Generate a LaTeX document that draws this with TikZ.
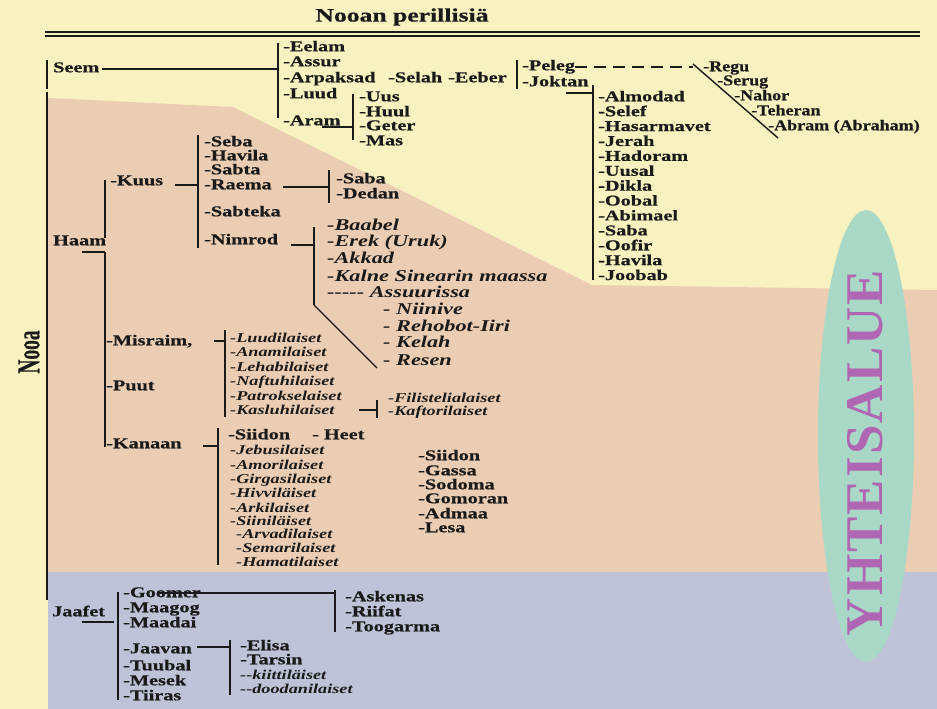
\documentclass[tikz,border=0pt]{standalone}
\usepackage{fontspec}
\usepackage{graphicx}
\usetikzlibrary{shapes.geometric}
\setmainfont{Liberation Serif}[FakeStretch=1.35, BoldFeatures={FakeBold=0.6}]
\newfontfamily\nstr{Liberation Serif}[FakeStretch=1.2, BoldFeatures={FakeBold=0.6}]
\newfontfamily\yfont{Liberation Serif}[LetterSpace=4]
\definecolor{bgY}{HTML}{F7F2BF}
\definecolor{bgP}{HTML}{EBCDB3}
\definecolor{bgB}{HTML}{BEC3D7}
\definecolor{mint}{HTML}{A9D9C6}
\definecolor{purp}{HTML}{B067B3}
\definecolor{ink}{HTML}{1A1A1A}
\tikzset{
  lbl/.style={anchor=west, inner sep=0pt, text height=9pt, text depth=2.5pt, text=ink,
              font=\fontsize{15}{16}\selectfont\bfseries},
  lnr/.style={lbl, font=\nstr\fontsize{15}{16}\selectfont\bfseries},
  lit/.style={lbl, text height=8.5pt, text depth=2pt, font=\fontsize{13.5}{14}\selectfont\bfseries\itshape},
  lbi/.style={lbl, font=\fontsize{16.5}{17}\selectfont\bfseries\itshape},
  bar/.style={draw=ink, line width=2.2pt},
  conn/.style={draw=ink, line width=1.4pt},
}
\begin{document}
\begin{tikzpicture}[x=1pt,y=-1pt]
\useasboundingbox (0,0) rectangle (937,709);
% backgrounds
\fill[bgY] (0,0) rectangle (937,709);
\fill[bgP] (48,98) -- (233,107) -- (592,285) -- (937,290) -- (937,572) -- (48,572) -- cycle;
\fill[bgB] (48,572) rectangle (937,709);
\node[ellipse, fill=mint, inner sep=0pt, minimum width=96pt, minimum height=452pt] (oval) at (866,436) {};
\node[rotate=90, text=purp, inner sep=0pt, font=\yfont\fontsize{53}{53}\selectfont\bfseries] (yht) at (865,453) {YHTEISALUE};

% title
\node[inner sep=0pt, text=ink, font=\fontsize{19}{20}\selectfont\bfseries] (title) at (402,17) {Nooan perillisiä};
\coordinate (tl1) at (45,32); \coordinate (tr1) at (920,32);
\coordinate (tl2) at (45,36); \coordinate (tr2) at (920,36);
\draw[draw=ink, line width=1.6pt] (tl1) -- (tr1);
\draw[draw=ink, line width=1.2pt] (tl2) -- (tr2);

% Nooa
\node[rotate=90, inner sep=0pt, text=ink, font=\fontsize{32}{32}\selectfont\bfseries] (nooa) at (29,352) {\scalebox{0.45}[1]{Nooa}};
\coordinate (nooaT) at (47,92); \coordinate (nooaB) at (47,600);
\draw[bar] (nooaT) -- (nooaB);

% ---------------- Seem
\node[lbl] (seem) at (53,69) {Seem};
\coordinate (seemBarT) at (47,60); \coordinate (seemBarB) at (47,89);
\draw[bar] (seemBarT) -- (seemBarB);
\coordinate (seemT) at (278,43); \coordinate (seemB) at (278,118);
\draw[bar] (seemT) -- (seemB);
\draw[conn] ([xshift=2pt]seem.east) -- (seem.east -| seemT);
\foreach \n/\t/\y in {eelam/Eelam/48, assur/Assur/63, arpaksad/Arpaksad/79, luud/Luud/95, aram/Aram/122}
  \node[lbl] (\n) at (283,\y) {-\t};
\node[lbl] (selah) at (388,79) {-Selah};
\node[lbl] (eeber) at (448,79) {-Eeber};
% Aram
\coordinate (aramU) at (322,127); \coordinate (aramT) at (353,94); \coordinate (aramB) at (353,140);
\draw[bar] (aramT) -- (aramB);
\draw[conn] (aramU) -- (aramU -| aramT);
\foreach \n/\t/\y in {uus/Uus/98, huul/Huul/113, geter/Geter/127, mas/Mas/142}
  \node[lbl] (\n) at (359,\y) {-\t};
% Eeber
\coordinate (eebT) at (517,60); \coordinate (eebB) at (517,89);
\draw[bar] (eebT) -- (eebB);
\node[lbl] (peleg) at (522,67) {-Peleg};
\node[lbl] (joktan) at (522,83) {-Joktan};
\coordinate (pelegEnd) at (693,67);
\draw[conn, dash pattern=on 12pt off 7pt] (peleg.east) -- (pelegEnd);
\coordinate (diagT) at (693,64); \coordinate (diagB) at (778,138);
\draw[conn] (diagT) -- (diagB);
\node[lnr] (regu) at (703,68) {-Regu};
\node[lnr] (serug) at (717,82) {-Serug};
\node[lnr] (nahor) at (734,97) {-Nahor};
\node[lnr] (teheran) at (751,112) {-Teheran};
\node[lnr] (abram) at (768,127) {-Abram (Abraham)};
% Joktan
\coordinate (jokU) at (566,93); \coordinate (jokT) at (593,85); \coordinate (jokB) at (593,280);
\draw[bar] (jokT) -- (jokB);
\draw[conn] (jokU) -- (jokU -| jokT);
\foreach \n/\t [count=\i from 0] in {almodad/Almodad, selef/Selef, hasarmavet/Hasarmavet, jerah/Jerah, hadoram/Hadoram, uusal/Uusal, dikla/Dikla, oobal/Oobal, abimael/Abimael, sabaj/Saba, oofir/Oofir, havilaj/Havila, joobab/Joobab}
  \node[lbl] (\n) at (598,98+14.9*\i) {-\t};

% ---------------- Haam
\node[lbl] (haam) at (53,242) {Haam};
\coordinate (haamU) at (82,252); \coordinate (haamT) at (105,180); \coordinate (haamM) at (105,238);
\coordinate (haamB) at (105,447);
\draw[bar] (haamT) -- (haamM);
\draw[bar] (haamU -| haamB) -- (haamB);
\draw[conn] (haamU) -- (haamU -| haamB);
\node[lbl] (kuus) at (110,182) {-Kuus};
\coordinate (kuusL) at (175,185); \coordinate (kuusT) at (198,135); \coordinate (kuusB) at (198,248);
\draw[bar] (kuusT) -- (kuusB);
\draw[conn] (kuusL) -- (kuusL -| kuusT);
\foreach \n/\t/\y in {seba/Seba/143, havila/Havila/157, sabta/Sabta/171, raema/Raema/186, sabteka/Sabteka/213, nimrod/Nimrod/241}
  \node[lbl] (\n) at (204,\y) {-\t};
\coordinate (raeL) at (283,187); \coordinate (raeT) at (329,170); \coordinate (raeB) at (329,203);
\draw[bar] (raeT) -- (raeB);
\draw[conn] (raeL) -- (raeL -| raeT);
\node[lbl] (saba) at (336,180) {-Saba};
\node[lbl] (dedan) at (336,195) {-Dedan};
\coordinate (nimL) at (291,245); \coordinate (nimT) at (314,227); \coordinate (nimB) at (314,305);
\coordinate (nimD) at (377,368);
\draw[bar] (nimT) -- (nimB);
\draw[conn] (nimL) -- (nimL -| nimT);
\draw[conn] (nimB) -- (nimD);
\node[lbi] (baabel) at (327,227) {-Baabel};
\node[lbi] (erek) at (327,243) {-Erek (Uruk)};
\node[lbi] (akkad) at (327,260) {-Akkad};
\node[lbi] (kalne) at (327,278) {-Kalne Sinearin maassa};
\node[lbi] (assuur) at (327,294) {{-}{-}{-}{-}{-} Assuurissa};
\node[lbi] (niinive) at (383,311) {- Niinive};
\node[lbi] (rehobot) at (383,328) {- Rehobot-Iiri};
\node[lbi] (kelah) at (383,344) {- Kelah};
\node[lbi] (resen) at (383,362) {- Resen};
% Misraim
\node[lbl] (misraim) at (106,342) {-Misraim,};
\coordinate (misL) at (214,341); \coordinate (misT) at (225,330); \coordinate (misB) at (225,417);
\draw[bar] (misT) -- (misB);
\draw[conn] (misL) -- (misL -| misT);
\foreach \n/\t/\y in {luudil/Luudilaiset/339, anamil/Anamilaiset/353, lehabil/Lehabilaiset/368, naftuhil/Naftuhilaiset/382, patroksel/Patrokselaiset/397, kasluhil/Kasluhilaiset/411}
  \node[lit] (\n) at (230,\y) {-\t};
\coordinate (kasL) at (359,410); \coordinate (kasT) at (377,400); \coordinate (kasB) at (377,418);
\draw[bar] (kasT) -- (kasB);
\draw[conn] (kasL) -- (kasL -| kasT);
\node[lit] (filist) at (388,399) {-Filistelialaiset};
\node[lit] (kaftor) at (388,412) {-Kaftorilaiset};
\node[lbl] (puut) at (106,387) {-Puut};
% Kanaan
\node[lbl] (kanaan) at (106,445) {-Kanaan};
\coordinate (kanL) at (203,446); \coordinate (kanT) at (218,428); \coordinate (kanB) at (218,565);
\draw[bar] (kanT) -- (kanB);
\draw[conn] (kanL) -- (kanL -| kanT);
\node[lbl] (siidonk) at (228,436) {-Siidon};
\node[lbl] (heet) at (312,436) {- Heet};
\foreach \n/\t/\y in {jebus/Jebusilaiset/451, amoril/Amorilaiset/466, girgas/Girgasilaiset/480, hivvil/Hivviläiset/494, arkil/Arkilaiset/509, siinil/Siiniläiset/522}
  \node[lit] (\n) at (230,\y) {-\t};
\foreach \n/\t/\y in {arvad/Arvadilaiset/535, semar/Semarilaiset/549, hamat/Hamatilaiset/563}
  \node[lit] (\n) at (236,\y) {-\t};
\foreach \n/\t/\y in {siidon/Siidon/457, gassa/Gassa/472, sodoma/Sodoma/486, gomoran/Gomoran/500, admaa/Admaa/515, lesa/Lesa/529}
  \node[lbl] (\n) at (418,\y) {-\t};

% ---------------- Jaafet
\node[lbl] (jaafet) at (52,613) {Jaafet};
\coordinate (jaaU) at (82,622); \coordinate (jaaT) at (118,592); \coordinate (jaaB) at (118,700);
\draw[bar] (jaaT) -- (jaaB);
\draw[conn] (jaaU) -- ([xshift=-4pt]jaaU -| jaaT);
\foreach \n/\t/\y in {goomer/Goomer/594, maagog/Maagog/609, maadai/Maadai/624, jaavan/Jaavan/650, tuubal/Tuubal/667, mesek/Mesek/682, tiiras/Tiiras/697}
  \node[lbl] (\n) at (123,\y) {-\t};
\coordinate (gooL) at (158,593); \coordinate (gooT) at (335,590); \coordinate (gooB) at (335,632);
\draw[bar] (gooT) -- (gooB);
\draw[conn] (gooL) -- (gooL -| gooT);
\foreach \n/\t/\y in {askenas/Askenas/598, riifat/Riifat/613, toogarma/Toogarma/628}
  \node[lbl] (\n) at (345,\y) {-\t};
\coordinate (jaavL) at (197,647); \coordinate (jaavT) at (230,640); \coordinate (jaavB) at (230,695);
\draw[bar] (jaavT) -- (jaavB);
\draw[conn] (jaavL) -- (jaavL -| jaavT);
\node[lbl] (elisa) at (240,647) {-Elisa};
\node[lbl] (tarsin) at (240,661) {-Tarsin};
\node[lit] (kiitti) at (240,676) {{-}{-}kiittiläiset};
\node[lit] (doodan) at (240,690) {{-}{-}doodanilaiset};
\end{tikzpicture}
\end{document}
